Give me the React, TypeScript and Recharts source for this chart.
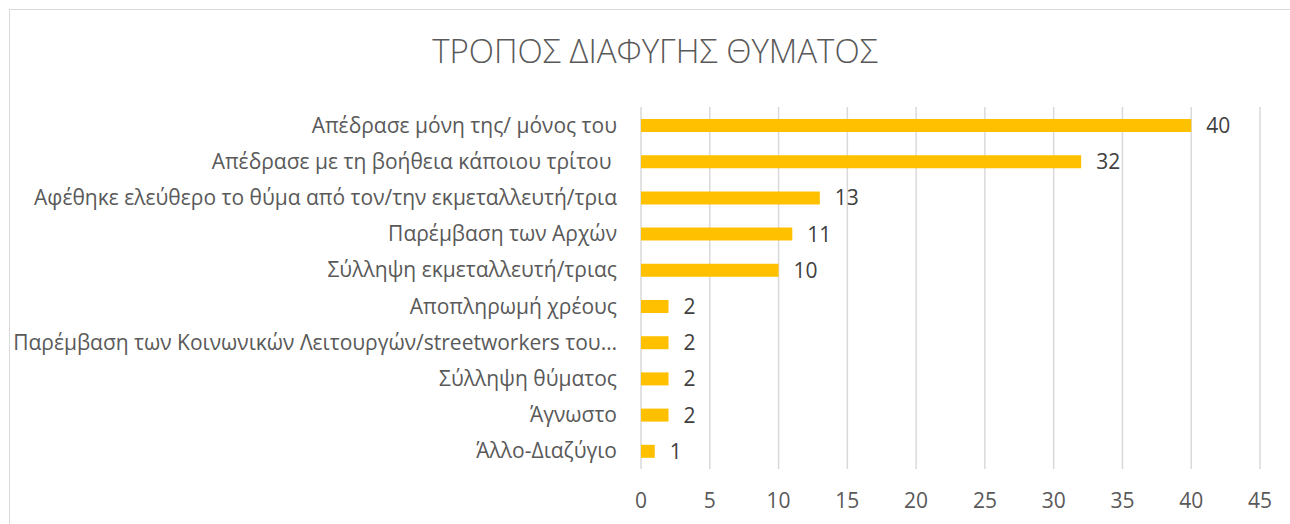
import React from 'react';
import { BarChart, Bar, XAxis, YAxis, CartesianGrid, LabelList } from 'recharts';

const categories = [
  'Απέδρασε μόνη της/ μόνος του',
  'Απέδρασε με τη βοήθεια κάποιου τρίτου\u00a0',
  'Αφέθηκε ελεύθερο το θύμα από τον/την εκμεταλλευτή/τρια',
  'Παρέμβαση των Αρχών',
  'Σύλληψη εκμεταλλευτή/τριας',
  'Αποπληρωμή χρέους',
  'Παρέμβαση των Κοινωνικών Λειτουργών/streetworkers του…',
  'Σύλληψη θύματος',
  'Άγνωστο',
  'Άλλο-Διαζύγιο',
];

const counts = [40, 32, 13, 11, 10, 2, 2, 2, 2, 1];

const xTicks = [0, 5, 10, 15, 20, 25, 30, 35, 40, 45];

const data = categories.map((name, i) => ({ name, value: counts[i] }));

const FONT = '"Open Sans", "Noto Sans", sans-serif';

export default function App() {
  return (
    <div
      style={{
        position: 'relative',
        width: 1290,
        height: 524,
        overflow: 'hidden',
        background: '#fff',
        fontFamily: FONT,
      }}
    >
      <style>{'body{margin:0}'}</style>
      <div
        style={{
          position: 'absolute',
          left: 9,
          top: 9,
          width: 1290,
          height: 600,
          border: '1px solid #d9d9d9',
          boxSizing: 'border-box',
        }}
      />
      <div
        style={{
          position: 'absolute',
          left: 9,
          width: 1292,
          top: 29,
          textAlign: 'center',
          fontSize: 33,
          fontWeight: 300,
          lineHeight: 1.36,
          color: '#595959',
        }}
      >
        ΤΡΟΠΟΣ ΔΙΑΦΥΓΗΣ ΘΥΜΑΤΟΣ
      </div>
      <div style={{ position: 'absolute', left: 0, top: 0 }}>
        <BarChart
          width={1290}
          height={524}
          data={data}
          layout="vertical"
          margin={{ top: 107, right: 30, left: 0, bottom: 10 }}
          barCategoryGap="32%"
        >
          <CartesianGrid horizontal={false} stroke="#d9d9d9" strokeWidth={1.5} />
          <XAxis
            type="number"
            domain={[0, 45]}
            ticks={xTicks}
            axisLine={false}
            tickLine={false}
            tickSize={0}
            tickMargin={24}
            height={45}
            tick={{ fill: '#595959', fontSize: 21, fontFamily: FONT }}
          />
          <YAxis
            type="category"
            dataKey="name"
            width={641}
            axisLine={false}
            tickLine={false}
            tickSize={0}
            tickMargin={24}
            interval={0}
            tick={{ fill: '#595959', fontSize: 21, fontFamily: FONT }}
          />
          <Bar dataKey="value" fill="#ffc000" barSize={13} isAnimationActive={false}>
            <LabelList
              dataKey="value"
              position="right"
              offset={15}
              fill="#404040"
              fontSize={21}
              fontFamily={FONT}
            />
          </Bar>
        </BarChart>
      </div>
    </div>
  );
}
